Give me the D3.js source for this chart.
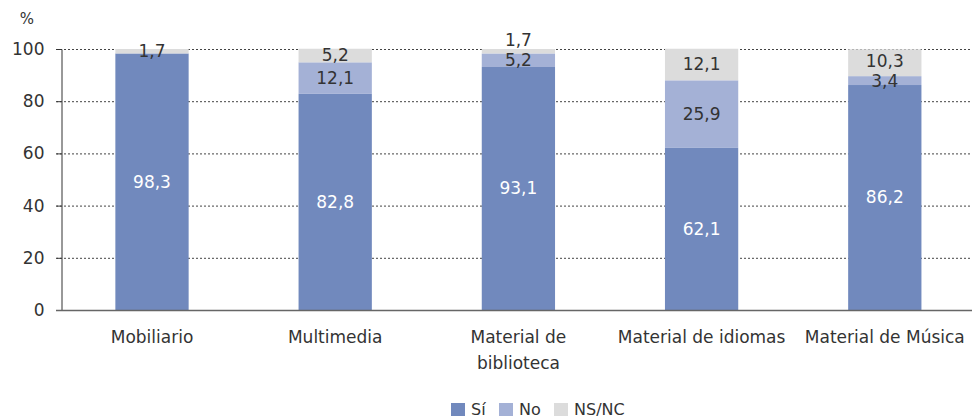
<!DOCTYPE html>
<html><head><meta charset="utf-8">
<script src="https://cdn.jsdelivr.net/npm/d3@7"></script>
<style>body{margin:0;background:#fff}svg{display:block}text{font-family:"DejaVu Sans",Verdana,sans-serif;fill:#333}</style>
</head><body><svg id="c" width="972" height="419"></svg>
<script>
const categories = [["Mobiliario"],["Multimedia"],["Material de","biblioteca"],["Material de idiomas"],["Material de Música"]];
const seriesNames = ["Sí","No","NS/NC"];
const si = [98.3, 82.8, 93.1, 62.1, 86.2];
const no = [0, 12.1, 5.2, 25.9, 3.4];
const nsnc = [1.7, 5.2, 1.7, 12.1, 10.3];
const yTicks = [0,20,40,60,80,100];
const colors = ["#7189bd","#a4b1d6","#dcdcdc"];
const labelColors = ["#ffffff","#333333","#333333"];

const svg = d3.select("#c");
const fs = 17;
const x = d3.scaleBand().domain(d3.range(categories.length)).range([60.4, 976.4]).paddingInner(0.6).paddingOuter(0.3);
const y = d3.scaleLinear().domain([0,100]).range([310, 49]);

// grid
svg.append("g").selectAll("line").data(yTicks.filter(d=>d>0)).join("line")
  .attr("x1",56).attr("x2",972).attr("y1",d=>y(d)+0.5).attr("y2",d=>y(d)+0.5)
  .attr("stroke","#444").attr("stroke-width",1).attr("stroke-dasharray","2,2");

// y axis
const ya = svg.append("g").attr("transform","translate(61.5,0)").call(d3.axisLeft(y).tickValues(yTicks).tickSize(5).tickPadding(12));
ya.select(".domain").attr("stroke","#333");
ya.selectAll(".tick line").attr("stroke","#333");
ya.selectAll("text").style("font-size",fs+"px").attr("fill","#333").attr("font-family","DejaVu Sans, Verdana, sans-serif");
svg.append("text").attr("x",27).attr("y",24).attr("text-anchor","middle").style("font-size","15px").text("%");

// stacks
const seriesVals = [si,no,nsnc];
const rows = categories.map((c,i)=>({i, s0:si[i], s1:no[i], s2:nsnc[i]}));
const stack = d3.stack().keys(["s0","s1","s2"])(rows);
stack.forEach((layer,k)=>{
  svg.append("g").selectAll("rect").data(layer).join("rect")
    .attr("x",d=>x(d.data.i)).attr("width",x.bandwidth())
    .attr("y",d=>y(d[1])).attr("height",d=>Math.max(0,y(d[0])-y(d[1])))
    .attr("fill",colors[k]);
});

// labels with simple overlap avoidance
categories.forEach((c,i)=>{
  const labs = [];
  stack.forEach((layer,k)=>{
    const d = layer[i];
    const v = seriesVals[k][i];
    if (v>0) labs.push({k, v, cy: y((d[0]+d[1])/2)});
  });
  for (let j=1;j<labs.length;j++){
    if (labs[j-1].cy - labs[j].cy < 20) labs[j].cy = labs[j-1].cy - 20;
  }
  labs.forEach(l=>{
    svg.append("text").attr("x",x(i)+x.bandwidth()/2).attr("y",l.cy).attr("dy","0.35em")
      .attr("text-anchor","middle").style("font-size",fs+"px")
      .style("fill",labelColors[l.k]).text(d3.format(".1f")(l.v).replace(".",","));
  });
});

// baseline
svg.append("line").attr("x1",56).attr("x2",972).attr("y1",310.5).attr("y2",310.5).attr("stroke","#666").attr("stroke-width",1.5);

// x labels
categories.forEach((lines,i)=>{
  const t = svg.append("text").attr("text-anchor","middle").style("font-size",fs+"px");
  lines.forEach((ln,j)=>t.append("tspan").attr("x",x(i)+x.bandwidth()/2).attr("y",343+j*26).text(ln));
});

// legend
const lx = [451, 499, 554];
seriesNames.forEach((n,k)=>{
  svg.append("rect").attr("x",lx[k]).attr("y",403).attr("width",14).attr("height",13).attr("fill",colors[k]);
  svg.append("text").attr("x",lx[k]+20).attr("y",415).style("font-size","16px").text(n);
});
</script></body></html>
